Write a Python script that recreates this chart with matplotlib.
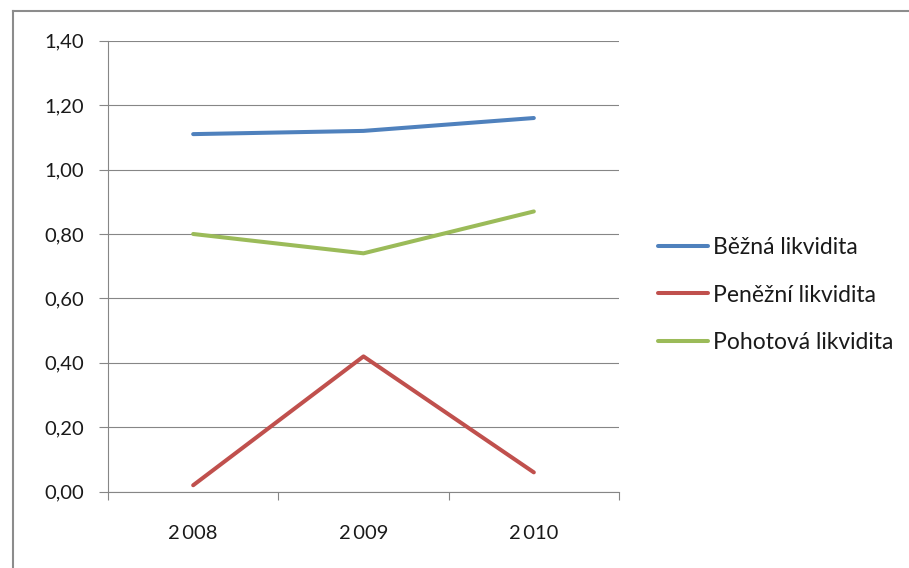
import numpy as np
import matplotlib
matplotlib.use('Agg')
import matplotlib.pyplot as plt
from matplotlib.lines import Line2D
from matplotlib.ticker import FixedLocator, FuncFormatter

plt.rcParams['font.family'] = ['Lato', 'DejaVu Sans']

years = ['2\u2009008', '2\u2009009', '2\u2009010']
bezna = [1.11, 1.12, 1.16]
penezni = [0.02, 0.42, 0.06]
pohotova = [0.80, 0.74, 0.87]
series_names = ['Běžná likvidita', 'Peněžní likvidita', 'Pohotová likvidita']
series_colors = ['#4F81BD', '#C0504D', '#9BBB59']

W, H = 909, 568
fig = plt.figure(figsize=(W / 100, H / 100), dpi=100)
ax = fig.add_axes([108 / W, (H - 491.7) / H, (619 - 108) / W, (491.7 - 40.7) / H])

x = np.arange(len(years))
lines = []
for vals, name, col in zip([bezna, penezni, pohotova], series_names, series_colors):
    ln, = ax.plot(x, vals, color=col, lw=2.9, solid_capstyle='round', label=name)
    lines.append(ln)

ax.set_xlim(-0.5, 2.5)
ax.set_ylim(0, 1.4)
ax.set_yticks(np.arange(0, 1.41, 0.2))
ax.yaxis.set_major_formatter(FuncFormatter(lambda v, p: f'{v:.2f}'.replace('.', ',')))
ax.set_xticks(x)
ax.set_xticklabels(years)
ax.xaxis.set_minor_locator(FixedLocator([-0.5, 0.5, 1.5, 2.5]))

grid_col = '#868686'
ax.grid(axis='y', color=grid_col, lw=0.8)
ax.set_axisbelow(True)
for s in ['top', 'right']:
    ax.spines[s].set_visible(False)
for s in ['left', 'bottom']:
    ax.spines[s].set_color(grid_col)
    ax.spines[s].set_linewidth(0.8)

ax.tick_params(axis='y', length=6.5, width=0.8, color=grid_col, pad=11, labelsize=14.5, labelcolor='#1a1a1a')
ax.tick_params(axis='x', which='major', length=0, pad=24, labelsize=14.5, labelcolor='#1a1a1a')
ax.tick_params(axis='x', which='minor', length=6, width=0.8, color=grid_col)

fig.legend(handles=lines, loc='center left', bbox_to_anchor=(637 / W, (H - 295) / H),
           frameon=False, fontsize=16.5, handlelength=2.2, handletextpad=0.2,
           labelspacing=1.15, labelcolor='#1a1a1a')

# outer chart frame (top and left edges visible)
fig.add_artist(Line2D([12.5 / W, 1.02], [(H - 10.5) / H, (H - 10.5) / H], color='#8c8c8c', lw=1.5))
fig.add_artist(Line2D([12.5 / W, 12.5 / W], [-0.02, (H - 10.5) / H], color='#8c8c8c', lw=1.5))

fig.savefig('out.png', dpi=100)
